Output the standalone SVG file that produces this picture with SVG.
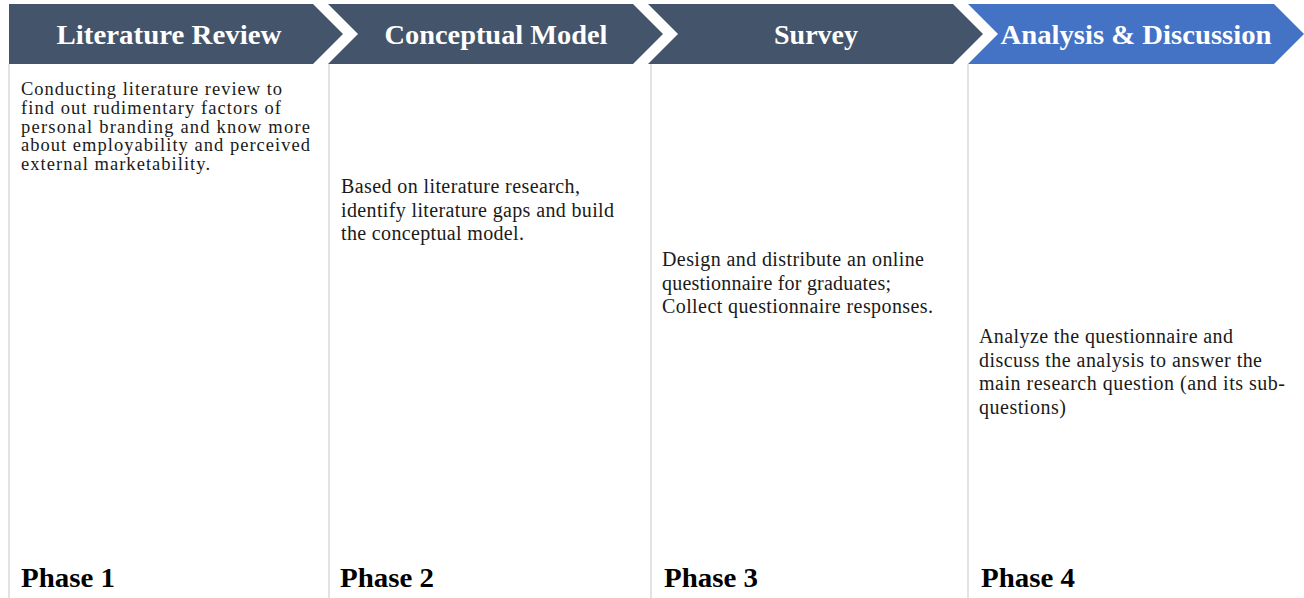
<svg xmlns="http://www.w3.org/2000/svg" width="1304" height="598" viewBox="0 0 1304 598">
  <style>
    .bg { fill: #ffffff; }
    .chev { fill: #44546A; }
    .chev.active { fill: #4472C4; }
    .divider { stroke: #dadada; stroke-width: 1.5; fill: none; }
    .head { font-family: "Liberation Serif", "DejaVu Serif", serif; font-weight: bold; font-size: 27px; fill: #ffffff; text-anchor: middle; }
    .body { font-family: "Liberation Serif", "DejaVu Serif", serif; font-size: 20px; fill: #1a1a1a; }
    .body.tight { font-size: 18.5px; }
    .phase { font-family: "Liberation Serif", "DejaVu Serif", serif; font-weight: bold; font-size: 28px; fill: #000000; }
  </style>

  <rect class="bg" x="0" y="0" width="1304" height="598"/>

  <!-- column dividers -->
  <g id="connectors">
    <line class="divider" x1="9" y1="64" x2="9" y2="598"/>
    <line class="divider" x1="329" y1="64" x2="329" y2="598"/>
    <line class="divider" x1="651" y1="64" x2="651" y2="598"/>
    <line class="divider" x1="968" y1="64" x2="968" y2="598"/>
  </g>

  <g id="phase1">
    <polygon class="chev" points="9,4 313,4 343,34 313,64 9,64"/>
    <text class="head" x="169" y="44" textLength="225" lengthAdjust="spacingAndGlyphs">Literature Review</text>
    <text class="body tight">
      <tspan x="21" y="95" textLength="261">Conducting literature review to</tspan>
      <tspan x="21" y="114" textLength="260">find out rudimentary factors of</tspan>
      <tspan x="21" y="132.5" textLength="289">personal branding and know more</tspan>
      <tspan x="21" y="151" textLength="289">about employability and perceived</tspan>
      <tspan x="21" y="170" textLength="189">external marketability.</tspan>
    </text>
    <text class="phase" x="21" y="587" textLength="94" lengthAdjust="spacingAndGlyphs">Phase 1</text>
  </g>

  <g id="phase2">
    <polygon class="chev" points="328,4 633,4 663,34 633,64 328,64 358,34"/>
    <text class="head" x="496" y="44" textLength="223" lengthAdjust="spacingAndGlyphs">Conceptual Model</text>
    <text class="body">
      <tspan x="341" y="193" textLength="239">Based on literature research,</tspan>
      <tspan x="341" y="217" textLength="273">identify literature gaps and build</tspan>
      <tspan x="341" y="240" textLength="183">the conceptual model.</tspan>
    </text>
    <text class="phase" x="340" y="587" textLength="94" lengthAdjust="spacingAndGlyphs">Phase 2</text>
  </g>

  <g id="phase3">
    <polygon class="chev" points="648,4 953,4 983,34 953,64 648,64 678,34"/>
    <text class="head" x="816" y="44" textLength="84" lengthAdjust="spacingAndGlyphs">Survey</text>
    <text class="body">
      <tspan x="662" y="266" textLength="262">Design and distribute an online</tspan>
      <tspan x="662" y="290" textLength="229">questionnaire for graduates;</tspan>
      <tspan x="662" y="313" textLength="271">Collect questionnaire responses.</tspan>
    </text>
    <text class="phase" x="664" y="587" textLength="94" lengthAdjust="spacingAndGlyphs">Phase 3</text>
  </g>

  <g id="phase4">
    <polygon class="chev active" points="968,4 1274,4 1304,34 1274,64 968,64 998,34"/>
    <text class="head" x="1136" y="44" textLength="271" lengthAdjust="spacingAndGlyphs">Analysis &amp; Discussion</text>
    <text class="body">
      <tspan x="979" y="343" textLength="254">Analyze the questionnaire and</tspan>
      <tspan x="979" y="367" textLength="283">discuss the analysis to answer the</tspan>
      <tspan x="979" y="390" textLength="306">main research question (and its sub-</tspan>
      <tspan x="979" y="414" textLength="87">questions)</tspan>
    </text>
    <text class="phase" x="981" y="587" textLength="94" lengthAdjust="spacingAndGlyphs">Phase 4</text>
  </g>
</svg>
